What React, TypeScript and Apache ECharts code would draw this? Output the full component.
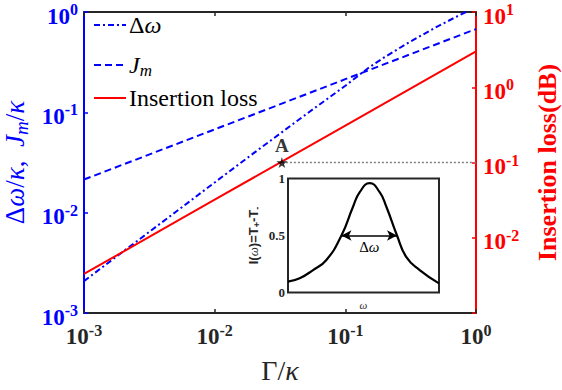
import React, { useEffect, useRef } from "react";
import * as echarts from "echarts";

const gammaDw = [0.001, 0.002, 0.005, 0.01, 0.02, 0.05, 0.1, 0.15, 0.2, 0.3, 0.5, 0.7, 1];
const deltaOmega = [0.00208, 0.00411, 0.0101, 0.02, 0.0394, 0.0955, 0.184, 0.277, 0.355, 0.49, 0.71, 0.89, 1.12];
const gammaJ = [0.001, 0.01, 0.1, 1];
const jm = [0.0214, 0.0676, 0.214, 0.676];
const insertionLoss = [0.0033, 0.032, 0.31, 3.0];
const pointA = [0.0327, 0.1];
const insetW = [0, 0.077, 0.166, 0.254, 0.354, 0.43, 0.475, 0.541, 0.607, 0.652, 0.722, 0.784, 0.872, 1];
const insetI = [0.095, 0.125, 0.197, 0.285, 0.5, 0.75, 0.88, 0.96, 0.88, 0.75, 0.5, 0.31, 0.197, 0.08];
const arrowFrom = [0.354, 0.5];
const arrowTo = [0.722, 0.5];

const SERIF = "Liberation Serif";
const SANS = "Liberation Sans";
const BLUE = "#0000ff";
const RED = "#ff0000";
const DARK = "#262626";

const tok = (family: string, size: number, color: string, weight = "normal", style = "normal", extra: any = {}) => ({
  fontFamily: family, fontSize: size, color, fontWeight: weight, fontStyle: style, ...extra,
});

const powLabel = (color: string, hideMin?: number) => ({
  formatter: (v: number) => {
    const e = Math.round(Math.log10(v));
    if (hideMin !== undefined && e === hideMin) return "";
    return `{b|10}{s|${e}}`;
  },
  fontFamily: SERIF,
  rich: {
    b: tok(SERIF, 23, color, "bold", "normal", { lineHeight: 23, verticalAlign: "bottom" }),
    s: tok(SERIF, 16, color, "bold", "normal", { lineHeight: 16, verticalAlign: "bottom", padding: [0, 0, 10, 0] }),
  },
});

const mathRich = (color: string, size: number) => ({
  u: tok(SERIF, size, color),
  i: tok(SERIF, size, color, "normal", "italic"),
  sub: tok(SERIF, Math.round(size * 0.7), color, "normal", "italic", { padding: [Math.round(size * 0.45), 0, 0, 0] }),
});

export default function App() {
  const ref = useRef<HTMLDivElement>(null);
  useEffect(() => {
    if (!ref.current) return;
    const chart = echarts.init(ref.current, null, { renderer: "svg" });
    const option: any = {
      animation: false,
      backgroundColor: "#fff",
      textStyle: { fontFamily: SERIF },
      grid: [
        { left: 84, top: 12, right: 86, bottom: 77, containLabel: false, outerBoundsMode: "none" },
        { left: 288, top: 178.5, width: 151, height: 114, show: true, backgroundColor: "#fff", borderColor: DARK, borderWidth: 2, z: 5, containLabel: false, outerBoundsMode: "none" },
      ],
      xAxis: [
        {
          type: "log", gridIndex: 0, min: 0.001, max: 1, position: "bottom",
          axisLine: { lineStyle: { color: DARK, width: 2 } },
          axisTick: { inside: true, length: 4, lineStyle: { color: DARK, width: 1.5 } },
          minorTick: { show: false }, splitLine: { show: false },
          axisLabel: { ...powLabel(DARK), margin: 12 },
          name: "{u|Γ/}{i|κ}", nameLocation: "middle", nameGap: 43,
          nameTextStyle: { fontFamily: SERIF, rich: mathRich(DARK, 28) },
        },
        {
          type: "log", gridIndex: 0, min: 0.001, max: 1, position: "top",
          axisLine: { lineStyle: { color: DARK, width: 2 } },
          axisTick: { inside: true, length: 4, lineStyle: { color: DARK, width: 1.5 } },
          axisLabel: { show: false }, splitLine: { show: false },
        },
        {
          type: "value", gridIndex: 1, min: 0, max: 1,
          axisLine: { show: false }, axisTick: { show: false }, axisLabel: { show: false }, splitLine: { show: false },
          name: "ω", nameLocation: "middle", nameGap: 7,
          nameTextStyle: { fontFamily: SERIF, fontStyle: "italic", fontWeight: "normal", fontSize: 11, color: DARK },
        },
      ],
      yAxis: [
        {
          type: "log", gridIndex: 0, min: 0.001, max: 1, position: "left",
          axisLine: { lineStyle: { color: BLUE, width: 2 } },
          axisTick: { inside: true, length: 4, lineStyle: { color: BLUE, width: 1.5 } },
          splitLine: { show: false },
          axisLabel: { ...powLabel(BLUE), margin: 6, padding: [8, 0, 0, 0] },
          name: "{u|Δ}{i|ω}{u|/}{i|κ}{u|,  }{i|J}{sub|m}{u|/}{i|κ}",
          nameLocation: "middle", nameGap: 53, nameRotate: 90,
          nameTextStyle: { fontFamily: SERIF, rich: mathRich(BLUE, 27) },
        },
        {
          type: "log", gridIndex: 0, min: 0.001, max: 10, position: "right",
          axisLine: { lineStyle: { color: RED, width: 2 } },
          axisTick: { inside: true, length: 4, lineStyle: { color: RED, width: 1.5 } },
          splitLine: { show: false },
          axisLabel: { ...powLabel(RED, -3), margin: 7, padding: [8, 0, 0, 0] },
          name: "Insertion loss(dB)", nameLocation: "middle", nameGap: 58, nameRotate: 90,
          nameTextStyle: { fontFamily: SERIF, fontWeight: "bold", fontStyle: "normal", fontSize: 26, color: RED },
        },
        {
          type: "value", gridIndex: 1, min: 0, max: 1, interval: 0.5, position: "left",
          axisLine: { show: false },
          axisTick: { inside: true, length: 2, lineStyle: { color: DARK } },
          splitLine: { show: false },
          axisLabel: { fontFamily: SERIF, fontWeight: "bold", fontSize: 13, color: DARK, margin: 3 },
          name: "{b|I(}{w|ω}{b|)=T}{sub|+}{b|-T}{sub|-}",
          nameLocation: "middle", nameGap: 27, nameRotate: 90,
          nameTextStyle: {
            fontFamily: SANS,
            rich: {
              b: tok(SANS, 13, DARK, "bold"),
              w: tok(SERIF, 13, DARK, "normal", "italic"),
              sub: tok(SANS, 9, DARK, "bold", "normal", { padding: [6, 0, 0, 0] }),
            },
          },
        },
        {
          type: "value", gridIndex: 1, min: 0, max: 1, interval: 0.5, position: "right",
          axisLine: { show: false },
          axisTick: { inside: true, length: 2, lineStyle: { color: DARK } },
          axisLabel: { show: false }, splitLine: { show: false },
        },
      ],
      series: [
        {
          type: "line", xAxisIndex: 0, yAxisIndex: 0, showSymbol: false, symbol: "none",
          data: gammaDw.map((g, i) => [g, deltaOmega[i]]),
          lineStyle: { color: BLUE, width: 2, type: [6, 3, 2, 3] },
        },
        {
          type: "line", xAxisIndex: 0, yAxisIndex: 0, showSymbol: false, symbol: "none",
          data: gammaJ.map((g, i) => [g, jm[i]]),
          lineStyle: { color: BLUE, width: 2, type: [7, 4] },
        },
        {
          type: "line", xAxisIndex: 0, yAxisIndex: 1, showSymbol: false, symbol: "none",
          data: gammaJ.map((g, i) => [g, insertionLoss[i]]),
          lineStyle: { color: RED, width: 2 },
        },
        {
          type: "line", xAxisIndex: 0, yAxisIndex: 1, showSymbol: false, symbol: "none",
          data: [[pointA[0], pointA[1]], [1, pointA[1]]],
          lineStyle: { color: "#808080", width: 1.5, type: [2, 2] },
        },
        {
          type: "scatter", xAxisIndex: 0, yAxisIndex: 1, z: 10,
          symbol: "path://M50,0 L61,35 L98,35 L68,57 L79,91 L50,70 L21,91 L32,57 L2,35 L39,35 Z",
          symbolSize: 11,
          itemStyle: { color: "#000" },
          data: [pointA],
          label: { show: true, position: "top", distance: 2, formatter: "A", fontFamily: SERIF, fontWeight: "bold", fontStyle: "normal", fontSize: 19, color: "#000" },
        },
        {
          type: "line", xAxisIndex: 2, yAxisIndex: 2, showSymbol: false, symbol: "none", smooth: true, z: 6,
          data: insetW.map((w, i) => [w, insetI[i]]),
          lineStyle: { color: "#000", width: 2.2 },
          markLine: {
            silent: true, symbol: ["arrow", "arrow"], symbolSize: [8, 10],
            lineStyle: { color: "#000", width: 1.5, type: "solid" },
            label: {
              show: true, position: "insideMiddleBottom", distance: 4,
              formatter: "{u|Δ}{i|ω}",
              fontFamily: SERIF,
              rich: { u: tok(SERIF, 15, "#000"), i: tok(SERIF, 15, "#000", "normal", "italic") },
            },
            data: [[{ coord: arrowFrom }, { coord: arrowTo }]],
          },
        },
      ],
      graphic: [
        { type: "line", shape: { x1: 94, y1: 25, x2: 126, y2: 25 }, style: { stroke: BLUE, lineWidth: 2, lineDash: [6, 3, 2, 3] } },
        { type: "line", shape: { x1: 94, y1: 65, x2: 126, y2: 65 }, style: { stroke: BLUE, lineWidth: 2, lineDash: [7, 4] } },
        { type: "line", shape: { x1: 94, y1: 98, x2: 126, y2: 98 }, style: { stroke: RED, lineWidth: 2 } },
        { type: "text", x: 129, y: 25, style: { text: "{u|Δ}{i|ω}", fontFamily: SERIF, fontSize: 24, rich: mathRich("#000", 24), verticalAlign: "middle" } },
        { type: "text", x: 129, y: 65, style: { text: "{i|J}{sub|m}", fontFamily: SERIF, fontSize: 24, rich: mathRich("#000", 24), verticalAlign: "middle" } },
        { type: "text", x: 129, y: 98, style: { text: "Insertion loss", fontFamily: SERIF, fontWeight: "normal", fontStyle: "normal", fontSize: 24, fill: "#000", verticalAlign: "middle" } },
      ],
    };
    chart.setOption(option);
    return () => chart.dispose();
  }, []);
  return <div ref={ref} style={{ position: "absolute", left: 0, top: 0, width: 562, height: 390 }} />;
}
